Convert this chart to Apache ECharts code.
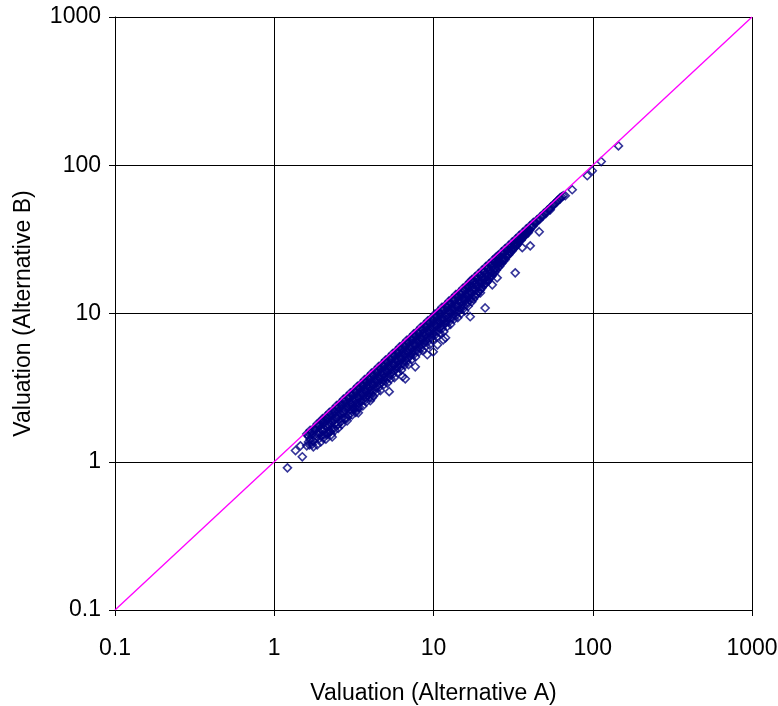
<!DOCTYPE html>
<html>
<head>
<meta charset="utf-8">
<script src="https://cdn.jsdelivr.net/npm/echarts@6/dist/echarts.min.js"></script>
<style>
  html, body { margin: 0; padding: 0; background: #ffffff; overflow: hidden; width: 778px; height: 706px; }
  #chart { width: 778px; height: 706px; overflow: hidden; display: block; }
</style>
</head>
<body>
<div id="chart"></div>
<script>
// Log-scale decade ticks shared by both axes
const tickValues = [0.1, 1, 10, 100, 1000];
const tickLabels = ['0.1', '1', '10', '100', '1000'];
const xAxisTitle = 'Valuation (Alternative A)';
const yAxisTitle = 'Valuation (Alternative B)';

// Reference line B = A
const parityLine = [[0.1, 0.1], [1000, 1000]];

// Valuation pairs [Alternative A, Alternative B] in the main band
const bandLow = [
  [1.60,1.54],[1.60,1.28],[1.64,1.48],[1.68,1.63],[1.68,1.41],[1.73,1.52],[1.73,1.31],
  [1.77,1.68],[1.82,1.64],[1.82,1.44],[1.86,1.80],[1.86,1.54],[1.86,1.30],[1.91,1.76],
  [1.91,1.43],[1.96,1.88],[1.96,1.67],[1.96,1.36],
  [2.01,1.95],[2.01,1.61],[2.06,1.83],[2.06,1.52],[2.11,2.03],[2.11,1.75],[2.11,1.42],
  [2.17,1.95],[2.17,1.56],[2.22,2.15],[2.22,1.75],[2.28,2.01],[2.28,1.66],[2.28,1.52],
  [2.34,2.25],[2.34,1.92],[2.40,2.16],[2.40,1.80],[2.40,1.63],[2.46,2.39],[2.46,1.97],
  [2.52,2.19],[2.52,1.79],[2.52,1.68],[2.59,2.49],[2.59,2.12],[2.65,2.39],[2.65,1.96],
  [2.65,1.78],[2.72,2.64],[2.72,2.15],[2.79,2.46],[2.79,1.95],[2.86,2.75],[2.86,2.37],
  [2.86,1.96],[2.94,2.68],[2.94,2.23]
];

const bandMid = [
  [3.01,2.92],[3.01,2.50],[3.01,2.11],[3.09,2.81],[3.09,2.38],[3.09,2.07],
  [3.17,3.04],[3.17,2.66],[3.17,2.25],[3.25,2.93],[3.25,2.47],[3.25,2.15],
  [3.33,3.23],[3.33,2.73],[3.33,2.33],[3.42,3.11],[3.42,2.67],[3.42,2.33],
  [3.51,3.37],[3.51,2.95],[3.51,2.53],[3.60,3.24],[3.60,2.77],[3.60,2.38],
  [3.69,3.58],[3.69,3.06],[3.69,2.58],[3.78,3.44],[3.78,2.95],[3.78,2.53],
  [3.88,3.72],[3.88,3.30],[3.88,2.79],[3.98,3.58],[3.98,3.02],[3.98,2.71],
  [4.08,3.96],[4.08,3.39],[4.08,2.86],[4.19,3.81],[4.19,3.27],[4.19,2.77],
  [4.30,4.13],[4.30,3.61],[4.30,3.05],[4.41,3.97],[4.41,3.40],[4.41,2.95],
  [4.52,4.38],[4.52,3.71],[4.52,3.16],[4.64,4.22],[4.64,3.62],[4.64,3.02],
  [4.76,4.57],[4.76,4.05],[4.76,3.43],[4.88,4.39],[4.88,3.71],[4.88,3.32],
  [5.00,4.85],[5.00,4.15],[5.00,3.50],[5.13,4.67],[5.13,4.00],[5.13,3.39],
  [5.26,5.05],[5.26,4.42],[5.26,3.73],[5.40,4.86],[5.40,4.16],[5.40,3.62],
  [5.54,5.37],[5.54,4.54],[5.54,3.88],[5.68,5.17],[5.68,4.49],[5.68,3.69],
  [5.83,5.60],[5.83,4.90],[5.83,4.20],[5.98,5.38],[5.98,4.54],[5.98,4.01],
  [6.13,5.95],[6.13,5.09],[6.13,4.29],[6.29,5.72],[6.29,4.91],[6.29,4.15],
  [6.45,6.19],[6.45,5.48],[6.45,4.58],[6.62,5.96],[6.62,5.10],[6.62,4.50],
  [6.79,6.59],[6.79,5.57],[6.79,4.75],[6.96,6.33],[6.96,5.43],[6.96,4.52],
  [7.14,6.85],[7.14,6.00],[7.14,5.14],[7.32,6.59],[7.32,5.56],[7.32,4.90],
  [7.51,7.28],[7.51,6.23],[7.51,5.26],[7.71,7.02],[7.71,6.09],[7.71,5.09],
  [7.90,7.58],[7.90,6.64],[7.90,5.61],[8.11,7.30],[8.11,6.24],[8.11,5.51],
  [8.32,8.07],[8.32,6.82],[8.32,5.82],[8.53,7.76],[8.53,6.65],[8.53,5.63],
  [8.75,8.40],[8.75,7.44],[8.75,6.30],[8.98,8.08],[8.98,6.82],[8.98,6.02],
  [9.21,8.93],[9.21,7.64],[9.21,6.45],[9.44,8.59],[9.44,7.36],[9.44,6.14],
  [9.69,9.30],[9.69,8.14],[9.69,6.88],[9.94,8.95],[9.94,7.65],[9.94,6.66],
  [10.2,9.89],[10.2,8.47],[10.2,7.14],[10.5,9.56],[10.5,8.19],[10.5,6.93],
  [10.7,10.3],[10.7,8.99],[10.7,7.60],[11.0,9.90],[11.0,8.47],[11.0,7.37],
  [11.3,11.0],[11.3,9.27],[11.3,7.91],[11.6,10.6],[11.6,9.05],[11.6,7.54],
  [11.9,11.4],[11.9,10.1],[11.9,8.57],[12.2,11.0],[12.2,9.27],[12.2,8.17],
  [12.5,12.1],[12.5,10.4],[12.5,8.75],[12.8,11.6],[12.8,10.1],[12.8,8.45],
  [13.1,12.6],[13.1,11.0],[13.1,9.30],[13.5,12.2],[13.5,10.4],[13.5,9.18],
  [13.8,13.4],[13.8,11.3],[13.8,9.66],[14.2,12.9],[14.2,11.1],[14.2,9.37],
  [14.5,13.9],[14.5,12.3],[14.5,10.4],[14.9,13.4],[14.9,11.3],[14.9,9.98],
  [15.3,14.8],[15.3,12.7],[15.3,10.7],[15.7,14.3],[15.7,12.2],[15.7,10.4],
  [16.1,15.5],[16.1,13.5],[16.1,11.4],[16.5,14.9],[16.5,12.7],[16.5,11.2],
  [16.9,16.4],[16.9,14.0],[16.9,12.2]
];

const bandHigh = [
  [17.4,16.9],[17.4,15.3],[17.4,13.7],[17.4,12.0],[17.8,16.3],[17.8,14.5],[17.8,12.5],
  [18.3,17.7],[18.3,15.9],[18.3,14.3],[18.3,13.0],[18.8,17.3],[18.8,15.4],[18.8,13.5],
  [19.2,18.6],[19.2,16.7],[19.2,15.0],[19.2,14.0],[19.7,18.1],[19.7,16.0],[19.7,14.4],
  [20.2,19.6],[20.2,17.6],[20.2,16.0],[20.2,14.9],[20.8,19.2],[20.8,17.1],[20.8,15.6],
  [21.3,20.7],[21.3,18.6],[21.3,16.6],[21.3,16.0],[21.9,20.2],[21.9,18.0],[21.9,16.6],
  [22.4,21.7],[22.4,19.6],[22.4,17.6],[23.0,21.2],[23.0,19.0],[23.0,17.7],
  [23.6,22.9],[23.6,20.8],[23.6,18.6],[24.2,22.3],[24.2,20.1],[24.2,18.9],
  [24.8,24.1],[24.8,21.9],[24.8,19.6],
  [25.5,24.7],[25.5,22.5],[25.5,20.4],[26.1,24.1],[26.1,21.8],[26.1,20.9],
  [26.8,26.0],[26.8,23.6],[26.8,21.7],[27.5,25.4],[27.5,23.1],[27.5,22.6],
  [28.2,27.4],[28.2,24.9],[28.2,23.1],[28.9,26.8],[28.9,24.3],
  [29.7,28.8],[29.7,26.4],[29.7,24.9],[30.4,28.3],[30.4,25.8],
  [31.2,30.3],[31.2,27.8],[31.2,26.5],[32.0,29.8],[32.0,27.5],
  [32.9,31.9],[32.9,29.6],[32.9,28.3],[33.7,31.3],[33.7,29.3],
  [34.6,33.6],[34.6,31.1],[35.5,33.0],[35.5,31.2],[36.4,35.3],[36.4,33.1],
  [37.3,35.1],[37.3,33.2],[38.3,37.2],[38.3,34.9],[39.3,36.9],[39.3,35.0],
  [40.3,39.0],[40.3,36.7],
  [41.3,38.8],[42.4,41.1],[42.4,39.0],[43.5,40.9],[44.6,42.8],[45.8,42.6],
  [47.0,45.1],[48.2,45.3],[49.4,47.4],[50.7,47.2],[52.0,49.9],[53.4,50.2],
  [54.7,52.5],[56.2,53.4],[57.6,55.3],[59.1,56.1],[60.6,58.2],[62.2,59.1],[63.8,61.2]
];

// Further valuations lying between the pairs above
const bandInner = [
  [1.62,1.51],[1.66,1.55],[1.66,1.30],[1.70,1.58],[1.75,1.63],[1.75,1.38],[1.79,1.66],
  [1.84,1.71],[1.84,1.49],[1.88,1.75],[1.93,1.80],[1.93,1.56],[1.98,1.84],[1.98,1.50],
  [2.03,1.89],[2.03,1.62],[2.03,1.44],[2.08,1.93],[2.08,1.66],[2.14,1.99],[2.14,1.71],
  [2.14,1.52],[2.19,2.04],[2.19,1.75],[2.25,2.09],[2.25,1.80],[2.25,1.60],[2.31,2.15],
  [2.31,1.85],[2.37,2.20],[2.37,1.90],[2.37,1.68],[2.43,2.26],[2.43,1.94],[2.49,2.32],
  [2.49,1.99],[2.49,1.77],[2.55,2.37],[2.55,2.04],[2.62,2.44],[2.62,2.10],[2.62,1.86],
  [2.68,2.49],[2.68,2.14],[2.75,2.56],[2.75,2.20],[2.75,1.95],[2.82,2.62],[2.82,2.26],
  [2.90,2.70],[2.90,2.32],[2.90,2.06],[2.97,2.76],[2.97,2.38],
  [3.05,2.84],[3.05,2.44],[3.05,2.23],[3.13,2.91],[3.13,2.50],[3.21,2.99],[3.21,2.57],
  [3.21,2.34],[3.29,3.06],[3.29,2.63],[3.37,3.13],[3.37,2.70],[3.37,2.46],[3.46,3.22],
  [3.46,2.77],[3.55,3.30],[3.55,2.84],[3.55,2.59],[3.64,3.39],[3.64,2.91],[3.73,3.47],
  [3.73,2.98],[3.73,2.72],[3.83,3.56],[3.83,3.06],[3.93,3.65],[3.93,3.14],[3.93,2.87],
  [4.03,3.75],[4.03,3.22],[4.13,3.84],[4.13,3.30],[4.13,3.01],[4.24,3.94],[4.24,3.39],
  [4.35,4.05],[4.35,3.48],[4.35,3.18],[4.46,4.15],[4.46,3.57],[4.58,4.26],[4.58,3.66],
  [4.58,3.34],[4.70,4.37],[4.70,3.76],[4.82,4.48],[4.82,3.86],[4.82,3.52],[4.94,4.59],
  [4.94,3.95],[5.07,4.72],[5.07,4.06],[5.07,3.70],[5.20,4.84],[5.20,4.16],[5.33,4.96],
  [5.33,4.26],[5.33,3.89],[5.47,5.09],[5.47,4.38],[5.61,5.22],[5.61,4.49],[5.61,4.10],
  [5.75,5.35],[5.75,4.60],[5.90,5.49],[5.90,4.72],[5.90,4.31],[6.05,5.63],[6.05,4.84],
  [6.21,5.78],[6.21,4.97],[6.21,4.53],[6.37,5.92],[6.37,5.10],[6.53,6.07],[6.53,5.22],
  [6.53,4.77],[6.70,6.23],[6.70,5.36],[6.87,6.39],[6.87,5.50],[6.87,5.02],[7.05,6.56],
  [7.05,5.64],[7.23,6.72],[7.23,5.78],[7.23,5.28],[7.42,6.90],[7.42,5.94],[7.61,7.08],
  [7.61,6.09],[7.61,5.56],[7.80,7.25],[7.80,6.24],[8.00,7.44],[8.00,6.40],[8.00,5.84],
  [8.21,7.64],[8.21,6.57],[8.42,7.83],[8.42,6.74],[8.42,6.15],[8.64,8.04],[8.64,6.91],
  [8.86,8.24],[8.86,7.09],[8.86,6.47],[9.09,8.45],[9.09,7.27],[9.32,8.67],[9.32,7.46],
  [9.32,6.80],[9.56,8.89],[9.56,7.65],[9.81,9.12],[9.81,7.85],[9.81,7.16],[10.1,9.39],
  [10.1,8.08],[10.3,9.58],[10.3,8.24],[10.3,7.52],[10.6,9.86],[10.6,8.48],[10.9,10.1],
  [10.9,8.72],[10.9,7.96],[11.2,10.4],[11.2,8.96],[11.4,10.6],[11.4,9.12],[11.4,8.32],
  [11.7,10.9],[11.7,9.36],[12.0,11.2],[12.0,9.60],[12.0,8.76],[12.4,11.5],[12.4,9.92],
  [12.7,11.8],[12.7,10.2],[12.7,9.27],[13.0,12.1],[13.0,10.4],[13.3,12.4],[13.3,10.6],
  [13.3,9.71],[13.6,12.6],[13.6,10.9],[14.0,13.0],[14.0,11.2],[14.0,10.2],[14.3,13.3],
  [14.3,11.4],[14.7,13.7],[14.7,11.8],[14.7,10.7],[15.1,14.0],[15.1,12.1],[15.5,14.4],
  [15.5,12.4],[15.5,11.3],[15.9,14.8],[15.9,12.7],[16.3,15.2],[16.3,13.0],[16.3,11.9],
  [16.7,15.5],[16.7,13.4],
  [17.1,15.9],[17.1,14.0],[17.1,12.7],[17.6,16.4],[17.6,14.4],[18.0,16.7],[18.0,14.8],
  [18.0,13.3],[18.5,17.2],[18.5,15.2],[19.0,17.7],[19.0,15.6],[19.0,14.1],[19.5,18.1],
  [19.5,16.0],[20.0,18.6],[20.0,16.4],[20.0,15.0],[20.5,19.1],[20.5,16.8],[21.0,19.5],
  [21.0,17.2],[21.0,15.8],[21.6,20.1],[21.6,17.7],[22.1,20.6],[22.1,18.1],[22.1,16.8],
  [22.7,21.1],[22.7,18.6],[23.3,21.7],[23.3,19.1],[23.3,17.9],[23.9,22.2],[23.9,19.6],
  [24.5,22.8],[24.5,20.1],
  [25.1,23.3],[25.1,21.3],[25.8,24.0],[25.8,21.9],[26.5,24.6],[26.5,22.5],[27.1,25.2],
  [27.1,23.0],[27.8,25.9],[27.8,23.6],[28.6,26.6],[28.6,24.3],[29.3,27.2],[29.3,25.2],
  [30.0,27.9],[30.0,25.8],[30.8,28.6],[30.8,26.8],[31.6,29.4],[31.6,27.5],[32.4,30.1],
  [32.4,28.5],[33.3,31.0],[33.3,29.3],[34.1,31.7],[34.1,30.3],[35.0,32.6],[35.0,31.2],
  [35.9,33.4],[35.9,32.0],[36.8,34.2],[36.8,33.1],[37.8,35.2],[37.8,34.0],[38.8,36.1],
  [38.8,35.3],[39.8,37.0],[39.8,36.2],
  [41.8,38.9],[44.0,41.2],[46.4,43.4],[48.8,45.8],[51.3,48.5],[54.0,51.3],[56.9,54.3],
  [59.9,57.4]
];

// Isolated valuations away from the main band
const outliers = [
  [1.21,0.91],[1.36,1.19],[1.50,1.08],[1.46,1.28],[1.64,1.36],[1.76,1.26],
  [2.18,1.59],[2.25,1.59],[2.31,1.47],[2.87,1.89],[3.32,2.24],[3.37,2.14],
  [4.01,2.58],[4.12,2.70],[5.27,2.97],[6.65,3.63],[6.40,3.75],[7.68,4.37],
  [9.14,5.27],[9.96,5.52],[10.6,6.15],[11.5,6.65],[11.9,6.86],[17.0,9.51],
  [19.7,13.8],[21.1,10.9],[23.4,15.6],[25.1,17.4],[32.6,18.8],[36.1,27.8],
  [40.5,28.6],[46.1,35.6],[54.1,50.1],[62.5,60.4],[65.3,62.3],[67.2,62.3],
  [74.3,68.4],[92.4,85.0],[99.3,91.8],[113,106],[145,135]
];

const chart = echarts.init(document.getElementById('chart'), null, { renderer: 'canvas', width: 778, height: 706 });

const FONT = 'Liberation Sans, Arial, sans-serif';
const fmt = (v) => {
  const i = tickValues.findIndex((t) => Math.abs(Math.log10(t) - Math.log10(v)) < 1e-6);
  return i >= 0 ? tickLabels[i] : '';
};

function logAxis(name, gap, labelMargin) {
  return {
    type: 'log',
    logBase: 10,
    min: tickValues[0],
    max: tickValues[tickValues.length - 1],
    name: name,
    nameLocation: 'middle',
    nameGap: gap,
    nameTextStyle: { color: '#000', fontSize: 23, fontFamily: FONT },
    axisLine: { show: true, lineStyle: { color: '#000', width: 1 } },
    axisTick: { show: true, inside: false, length: 6, lineStyle: { color: '#000', width: 1 } },
    minorTick: { show: false },
    splitLine: { show: true, lineStyle: { color: '#000', width: 1 } },
    axisLabel: { color: '#000', fontSize: 23, fontFamily: FONT, margin: labelMargin, formatter: fmt,
                 showMinLabel: true, showMaxLabel: true }
  };
}

const markerStyle = {
  color: 'rgba(255,255,255,0)',
  borderColor: '#000080',
  borderWidth: 1.6
};

chart.setOption({
  animation: false,
  backgroundColor: '#ffffff',
  grid: { left: 115, top: 17, right: 26, bottom: 96, containLabel: false, outerBoundsMode: 'none' },
  xAxis: logAxis(xAxisTitle, 72, 27),
  yAxis: logAxis(yAxisTitle, 80, 14),
  series: [
    {
      type: 'scatter',
      data: bandLow.concat(bandMid, bandHigh, bandInner, outliers),
      symbol: 'diamond',
      symbolSize: 8,
      itemStyle: markerStyle,
      emphasis: { disabled: true },
      z: 2
    },
    {
      type: 'line',
      data: parityLine,
      showSymbol: false,
      symbol: 'none',
      lineStyle: { color: '#FF00FF', width: 1.3 },
      emphasis: { disabled: true },
      z: 3
    }
  ]
});
</script>
</body>
</html>
